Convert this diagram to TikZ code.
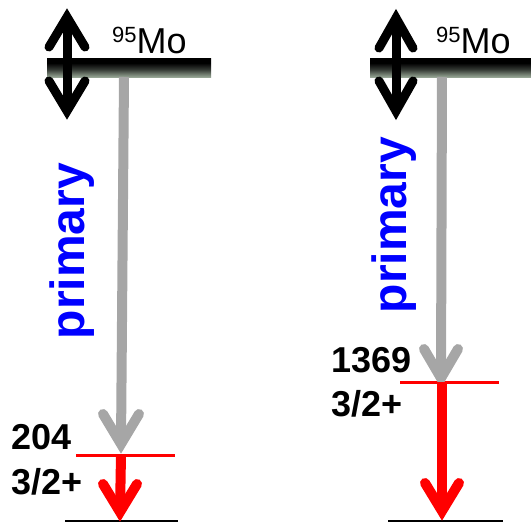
\documentclass[tikz,border=0pt]{standalone}
\usepackage{fontspec}
\setmainfont{Liberation Sans}
\usetikzlibrary{calc}
\definecolor{arrgray}{RGB}{166,166,166}
\definecolor{barbot}{RGB}{150,165,148}
\definecolor{pblue}{RGB}{0,0,255}
\pgfdeclareverticalshading{barshade}{100bp}{color(0bp)=(barbot); color(25bp)=(barbot); color(45bp)=(black!65!barbot); color(62bp)=(black); color(100bp)=(black)}
\begin{document}
\begin{tikzpicture}[x=1pt,y=-1pt,
  dblshaft/.style={line width=9pt, draw=black},
  dblhead/.style={line width=9pt, draw=black, line cap=round, line join=miter},
  grayshaft/.style={line width=10pt, draw=arrgray},
  grayhead/.style={line width=10pt, draw=arrgray, line cap=round, line join=miter},
  redshaft/.style={line width=10pt, draw=red},
  redhead/.style={line width=10pt, draw=red, line cap=round, line join=miter},
  levelline/.style={line width=3pt, draw=red},
  groundline/.style={line width=2pt, draw=black},
  energylbl/.style={font=\bfseries\fontsize{36pt}{36pt}\selectfont, anchor=base west, inner sep=0pt},
  primlbl/.style={font=\bfseries\fontsize{48pt}{48pt}\selectfont, text=pblue, rotate=90, anchor=base, inner sep=0pt},
  isolbl/.style={anchor=base west, inner sep=0pt}
]
\useasboundingbox (0,0) rectangle (531,522);

% ---------------- left panel ----------------
\shade[shading=barshade] (47,58) rectangle (211,77);
\node[isolbl] (LMo) at (112,53) {{\fontsize{22pt}{22pt}\selectfont\raisebox{11pt}{95}}{\fontsize{36pt}{36pt}\selectfont Mo}};
\coordinate (Lu) at (67,17);
\coordinate (Ld) at (67,111);
\draw[dblshaft] (Lu) -- (Ld);
\draw[dblhead] ($(Lu)+(-18,30)$) -- (Lu) -- ($(Lu)+(18,30)$);
\draw[dblhead] ($(Ld)+(-18,-30)$) -- (Ld) -- ($(Ld)+(18,-30)$);

\coordinate (La) at (76,455);
\coordinate (Lb) at (175,455);
\coordinate (Llev) at (121,455);
\draw[levelline] (La) -- (Lb);
\coordinate (Lg1) at (65,521);
\coordinate (Lg2) at (178,521);
\draw[groundline] (Lg1) -- (Lg2);

\coordinate (Ltop) at (124,77);
\coordinate (Lgv) at (121,444);
\draw[grayshaft] (Ltop) -- (Lgv);
\draw[grayhead] ($(Lgv)+(-18,-30)$) -- (Lgv) -- ($(Lgv)+(18,-30)$);

\coordinate (Lrv) at (120,512);
\draw[redshaft] (Llev) -- (Lrv);
\draw[redhead] ($(Lrv)+(-17,-28)$) -- (Lrv) -- ($(Lrv)+(17,-28)$);

\node[energylbl] (Le) at (11,449) {204};
\node[energylbl] (Ls) at (11,494) {3/2+};
\node[primlbl] (Lp) at (84,251) {primary};

% ---------------- right panel ----------------
\shade[shading=barshade] (370,58) rectangle (531,77);
\node[isolbl] (RMo) at (436,53) {{\fontsize{22pt}{22pt}\selectfont\raisebox{11pt}{95}}{\fontsize{36pt}{36pt}\selectfont Mo}};
\coordinate (Ru) at (396,18);
\coordinate (Rd) at (396,111);
\draw[dblshaft] (Ru) -- (Rd);
\draw[dblhead] ($(Ru)+(-17,30)$) -- (Ru) -- ($(Ru)+(17,30)$);
\draw[dblhead] ($(Rd)+(-17,-30)$) -- (Rd) -- ($(Rd)+(17,-30)$);

\coordinate (Ra) at (400,382);
\coordinate (Rb) at (499,382);
\coordinate (Rlev) at (442,382);
\draw[levelline] (Ra) -- (Rb);
\coordinate (Rg1) at (388,521);
\coordinate (Rg2) at (503,521);
\draw[groundline] (Rg1) -- (Rg2);

\coordinate (Rtop) at (442,77);
\coordinate (Rgv) at (441,378);
\draw[grayshaft] (Rtop) -- (Rgv);
\draw[grayhead] ($(Rgv)+(-17,-29)$) -- (Rgv) -- ($(Rgv)+(17,-29)$);

\coordinate (Rrv) at (442,511);
\draw[redshaft] (Rlev) -- (Rrv);
\draw[redhead] ($(Rrv)+(-17,-28)$) -- (Rrv) -- ($(Rrv)+(17,-28)$);

\node[energylbl] (Re) at (331,372) {1369};
\node[energylbl] (Rs) at (331,416) {3/2+};
\node[primlbl] (Rp) at (406,225) {primary};
\end{tikzpicture}
\end{document}
